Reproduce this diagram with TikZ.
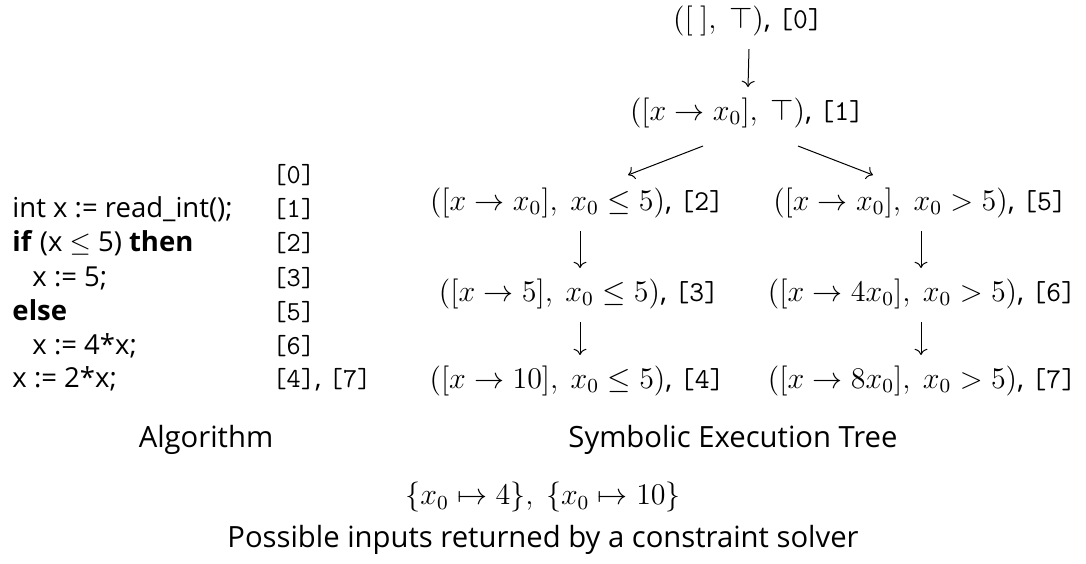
\documentclass[tikz,border=0pt]{standalone}
\usepackage{amsmath,amssymb}
\usepackage[no-math]{fontspec}
\setmainfont{Open Sans}
\usetikzlibrary{arrows.meta,positioning,calc}

\begin{document}
\begin{tikzpicture}[x=0.4pt,y=-0.4pt,
  every node/.style={inner sep=0pt},
  code/.style={anchor=base west,font=\fontsize{11}{13}\selectfont},
  state/.style={anchor=base,font=\fontsize{11.5}{13}\selectfont},
  caption/.style={anchor=center,font=\fontsize{11.7}{14}\selectfont},
  edge/.style={->,line width=0.4pt}]
  \useasboundingbox (0,0) rectangle (1086,563);

  % algorithm
  \node[code] (a0) at (272,183) {\texttt{[0]}};
  \node[code] (c1) at (12,217) {int x := read\_int();};
  \node[code] (a1) at (272,217) {\texttt{[1]}};
  \node[code] (c2) at (12,251) {\textbf{if} (x $\leq$ 5) \textbf{then}};
  \node[code] (a2) at (272,251) {\texttt{[2]}};
  \node[code] (c3) at (32,286) {x := 5;};
  \node[code] (a3) at (272,286) {\texttt{[3]}};
  \node[code] (c5) at (12,320) {\textbf{else}};
  \node[code] (a5) at (272,320) {\texttt{[5]}};
  \node[code] (c6) at (32,354) {x := 4*x;};
  \node[code] (a6) at (272,354) {\texttt{[6]}};
  \node[code] (c7) at (12,387) {x := 2*x;};
  \node[code] (a7) at (272,387) {\texttt{[4]}, \texttt{[7]}};

  % symbolic execution tree
  \node[state] (n0) at (748,28) {$([\ ],\ \top)$, \texttt{[0]}};
  \node[state] (n1) at (747,120) {$([x \rightarrow x_0],\ \top)$, \texttt{[1]}};
  \node[state] (n2) at (577,210) {$([x \rightarrow x_0],\ x_0 \leq 5)$, \texttt{[2]}};
  \node[state] (n5) at (920,210) {$([x \rightarrow x_0],\ x_0 > 5)$, \texttt{[5]}};
  \node[state] (n3) at (579,301) {$([x \rightarrow 5],\ x_0 \leq 5)$, \texttt{[3]}};
  \node[state] (n6) at (922,301) {$([x \rightarrow 4x_0],\ x_0 > 5)$, \texttt{[6]}};
  \node[state] (n4) at (577,388) {$([x \rightarrow 10],\ x_0 \leq 5)$, \texttt{[4]}};
  \node[state] (n7) at (922,388) {$([x \rightarrow 8x_0],\ x_0 > 5)$, \texttt{[7]}};

  \draw[edge] ([shift={(1,13)}]n0.south) -- ([shift={(1,-10)}]n1.north);
  \draw[edge] ([shift={(-44,18)}]n1.south) -- ([shift={(51,-12)}]n2.north);
  \draw[edge] ([shift={(51,18)}]n1.south) -- ([shift={(-47,-12)}]n5.north);
  \draw[edge] ([shift={(3,13)}]n2.south) -- ([shift={(1,-10)}]n3.north);
  \draw[edge] ([shift={(1,13)}]n5.south) -- ([shift={(-1,-10)}]n6.north);
  \draw[edge] ([shift={(1,13)}]n3.south) -- ([shift={(3,-10)}]n4.north);
  \draw[edge] ([shift={(-1,13)}]n6.south) -- ([shift={(-1,-10)}]n7.north);

  % captions
  \node[caption] (capA) at (206,440) {Algorithm};
  \node[caption] (capT) at (733,440) {Symbolic Execution Tree};
  \node[caption] (sol) at (543,497) {$\{x_0 \mapsto 4\},\ \{x_0 \mapsto 10\}$};
  \node[caption] (capS) at (543,540) {Possible inputs returned by a constraint solver};
\end{tikzpicture}
\end{document}
